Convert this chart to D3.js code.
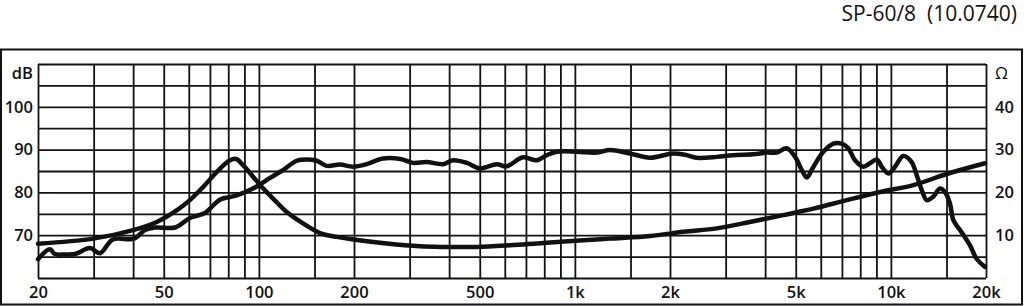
<!DOCTYPE html>
<html>
<head>
<meta charset="utf-8">
<script src="https://cdn.jsdelivr.net/npm/d3@7"></script>
<style>
  body { margin: 0; background: #fff; }
  text { font-family: "Open Sans", "DejaVu Sans", sans-serif; fill: #111; }
</style>
</head>
<body>
<div id="graphic"></div>
<script>
// Frequency response (dB) and impedance (ohm)
const splFreq = [20, 21.8, 22.6, 24.3, 26.2, 29.2, 31.4, 34.5, 40.3, 43.6, 46.9, 54.3, 60.5, 67.5, 75.3, 85.1, 95.8,
  108.5, 119.2, 131.8, 141.7, 152.4, 164, 180.6, 198.6, 219.5, 247, 280, 307.6, 339.7, 382.5, 411, 455, 501, 566, 608,
  685, 757, 815, 876, 1014, 1172, 1291, 1494, 1729, 2043, 2258, 2427, 2811, 3165, 3663, 4047, 4354, 4678, 4977, 5226,
  5420, 5689, 6112, 6576, 6993, 7333, 7700, 8183, 8590, 9020, 9356, 9820, 10310, 10946, 11633, 12073, 12530, 12990,
  13620, 14300, 14830, 15380, 15770, 16550, 17800, 18670, 19860];
const splDb = [64.4, 66.7, 65.6, 65.5, 65.6, 67, 65.8, 69, 69.2, 71.2, 71.8, 71.8, 74, 75.2, 78.3, 79.3, 80.9,
  83.4, 85.2, 87.4, 87.7, 87.4, 86.2, 86.5, 86, 86.6, 87.9, 87.8, 86.9, 87.1, 86.6, 87.5, 86.9, 85.6, 86.6, 86.1,
  88.2, 87.5, 88.7, 89.5, 89.5, 89.3, 89.9, 89.1, 88.1, 89.1, 88.7, 88.1, 88.3, 88.7, 88.9, 89.3, 89.3, 90.3, 88.3, 85.2,
  83.5, 86, 89.5, 91.4, 91.4, 90.3, 87.5, 86, 86.8, 87.7, 86, 84.4, 86, 88.5, 87.1, 84, 80.5, 78.2,
  79, 80.9, 80.1, 77.4, 73.5, 71.2, 67.6, 64.5, 62.6];

const impFreq = [20, 29.9, 40, 47.5, 54.9, 60.5, 66.7, 73.6, 81, 84.7, 89.3, 96, 103.3, 111.1, 122.5, 138.3, 156,
  176.3, 199, 254, 323.6, 383.5, 489, 623, 794, 1063, 1291, 1729, 2203, 2811, 3581, 4566, 5685, 7245, 9239, 11780,
  15020, 19860];
const impOhm = [8.0, 9.2, 11.2, 13.1, 15.8, 18.2, 21.3, 24.8, 27.5, 27.8, 26.3, 23.6, 20.9, 18.5, 15.4, 12.7, 10.5,
  9.6, 9.0, 8.05, 7.4, 7.25, 7.25, 7.65, 8.2, 8.8, 9.2, 9.8, 10.8, 11.6, 13.1, 14.7, 16.2, 18.2, 20.1, 21.7,
  24.3, 26.8];

const gridFreq = [20, 30, 40, 50, 60, 70, 80, 90, 100, 150, 200, 300, 400, 500, 600, 700, 800, 900,
  1000, 1500, 2000, 3000, 4000, 5000, 6000, 7000, 8000, 9000, 10000, 15000, 20000];
const freqLabels = [20, 50, 100, 200, 500, 1000, 2000, 5000, 10000, 20000];
const dbTicks = [70, 80, 90, 100, 110];
const ohmTicks = [10, 20, 30, 40, 50];
const title = "SP-60/8  (10.0740)";

const W = 1024, H = 306;
const margin = { top: 64, right: 38, bottom: 28, left: 38 };
const width = W - margin.left - margin.right;
const height = H - margin.top - margin.bottom;

const svg = d3.select("#graphic").append("svg")
  .attr("width", W)
  .attr("height", H);

// outer frame
svg.append("rect")
  .attr("x", 1).attr("y", 49.5)
  .attr("width", 1021).attr("height", 255)
  .attr("fill", "none").attr("stroke", "#111").attr("stroke-width", 2);

svg.append("text")
  .attr("x", 1017).attr("y", 21)
  .attr("text-anchor", "end")
  .attr("font-size", 21)
  .style("white-space", "pre")
  .text(title);

const g = svg.append("g").attr("transform", `translate(${margin.left},${margin.top})`);

const x = d3.scaleLog().domain([20, 20000]).range([0, width]);
const yDb = d3.scaleLinear().domain([60, 110]).range([height, 0]);
const yOhm = d3.scaleLinear().domain([0, 50]).range([height, 0]);

// grid
g.append("g")
  .attr("class", "grid")
  .call(d3.axisBottom(x).tickValues(gridFreq).tickSize(height).tickFormat(""))
  .call(s => s.select(".domain").remove());
g.append("g")
  .attr("class", "grid")
  .call(d3.axisLeft(yDb).tickValues(d3.range(60, 111, 5)).tickSize(-width).tickFormat(""))
  .call(s => s.select(".domain").remove());
g.selectAll(".grid line").attr("stroke", "#111").attr("stroke-width", 1.8);

const fmtF = d => d >= 1000 ? (d / 1000) + "k" : d;

// tick labels
const labelStyle = s => {
  s.select(".domain").remove();
  s.selectAll(".tick line").remove();
  s.selectAll("text").attr("font-size", 16.5).attr("font-weight", 600)
    .attr("font-family", "'Open Sans', sans-serif").attr("fill", "#111");
};
g.append("g")
  .attr("transform", `translate(0,${height})`)
  .call(d3.axisBottom(x).tickValues(freqLabels).tickFormat(fmtF).tickSize(0).tickPadding(8))
  .call(labelStyle);
g.append("g")
  .call(d3.axisLeft(yDb).tickValues(dbTicks).tickFormat(d => d === 110 ? "dB" : d).tickSize(0).tickPadding(5))
  .call(labelStyle)
  .call(s => s.selectAll(".tick").filter(d => d === 110).select("text").attr("dy", "0.9em"));
g.append("g")
  .attr("transform", `translate(${width},0)`)
  .call(d3.axisRight(yOhm).tickValues(ohmTicks).tickFormat(d => d === 50 ? "Ω" : d).tickSize(0).tickPadding(9))
  .call(labelStyle)
  .call(s => s.selectAll(".tick").filter(d => d === 50).select("text").attr("dy", "0.85em").attr("font-weight", 400));

// curves
const splLine = d3.line()
  .x((d, i) => x(splFreq[i]))
  .y(d => yDb(d))
  .curve(d3.curveCatmullRom.alpha(0.5));
const impLine = d3.line()
  .x((d, i) => x(impFreq[i]))
  .y(d => yOhm(d))
  .curve(d3.curveCatmullRom.alpha(0.5));

g.append("path")
  .attr("d", impLine(impOhm))
  .attr("fill", "none").attr("stroke", "#111").attr("stroke-width", 4.5)
  .attr("stroke-linejoin", "round").attr("stroke-linecap", "round");
g.append("path")
  .attr("d", splLine(splDb))
  .attr("fill", "none").attr("stroke", "#111").attr("stroke-width", 4.5)
  .attr("stroke-linejoin", "round").attr("stroke-linecap", "round");
</script>
</body>
</html>
